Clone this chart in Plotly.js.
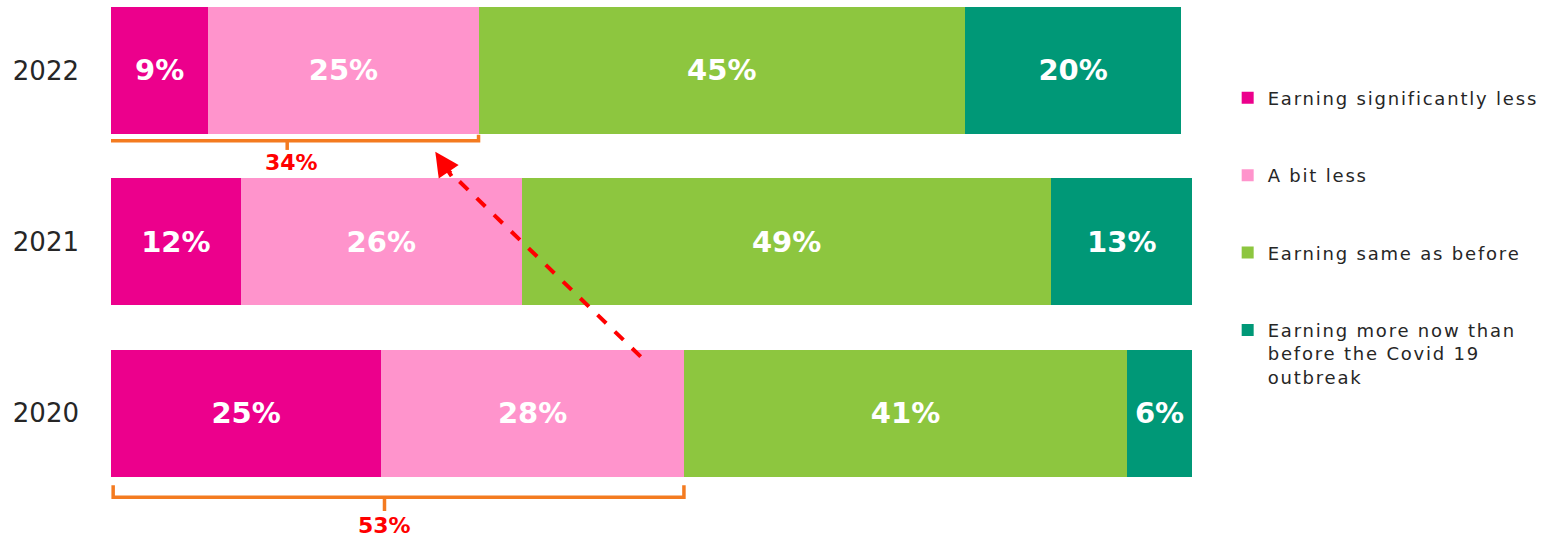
<!DOCTYPE html>
<html>
<head>
<meta charset="utf-8">
<script src="https://cdn.plot.ly/plotly-3.0.1.min.js"></script>
<style>html,body{margin:0;padding:0;background:#fff;}#chart{width:1548px;height:541px;}
.legendtext{letter-spacing:1.8px;}</style>
</head>
<body>
<div id="chart"></div>
<script>
// ---- data ----
const years = ['2020', '2021', '2022'];
const seriesNames = [
  'Earning significantly less',
  'A bit less',
  'Earning same as before',
  'Earning more now than<br>before the Covid 19<br>outbreak'
];
const sigLess = [25, 12, 9];
const bitLess = [28, 26, 25];
const same = [41, 49, 45];
const more = [6, 13, 20];
const colors = ['#EC008C', '#FF94CC', '#8DC63F', '#009877'];

const seriesValues = [sigLess, bitLess, same, more];

const traces = seriesValues.map((vals, i) => ({
  type: 'bar',
  orientation: 'h',
  y: years,
  x: vals,
  name: seriesNames[i],
  legendgroup: 'g' + i,
  marker: {color: colors[i], line: {width: 0}},
  text: vals.map(v => v + '%'),
  textposition: 'inside',
  insidetextanchor: 'middle',
  constraintext: 'none',
  textangle: 0,
  textfont: {family: 'DejaVu Sans', size: 29, color: '#ffffff', weight: 'bold'},
  hoverinfo: 'skip'
}));

// ---- brackets (derived from data) ----
const orange = '#F47B20';
const shapes = [];
const annotations = [];
function bracket(idx, topOff, lineOff, tickOff, labelOff, xPadL, centerX, labelX) {
  const total = sigLess[idx] + bitLess[idx];
  const yTop = idx + topOff, yLine = idx + lineOff, yTick = idx + tickOff;
  const xl = xPadL, xr = total;
  const xc = centerX !== undefined ? centerX : total / 2;
  const ln = {color: orange, width: 3.5};
  shapes.push({type: 'path', xref: 'x', yref: 'y',
    path: `M ${xl},${yTop} L ${xl},${yLine} L ${xr},${yLine} L ${xr},${yTop}`, line: ln});
  shapes.push({type: 'line', xref: 'x', yref: 'y', x0: xc, x1: xc, y0: yLine, y1: yTick, line: ln});
  annotations.push({xref: 'x', yref: 'y', x: labelX !== undefined ? labelX : xc, y: idx + labelOff,
    text: '<b>' + total + '%</b>',
    showarrow: false, font: {family: 'DejaVu Sans', size: 22, color: '#FF0000'}});
}
bracket(2, -0.376, -0.411, -0.464, -0.539, -0.2, 16.3, 16.7);
bracket(0, -0.42, -0.49, -0.571, -0.653, 0.2, 25.3, 25.3);

// dashed arrow from the 2020 bar to the 2022 bracket
const arrowTail = {x: 49.0, y: 0.33};
const arrowHead = {x: 30.0, y: 1.525};
shapes.push({type: 'line', xref: 'x', yref: 'y', x0: arrowTail.x, y0: arrowTail.y,
  x1: arrowHead.x + 1.2, y1: arrowHead.y - 0.11, line: {color: '#FF0000', width: 4, dash: 'dash'}});
annotations.push({xref: 'x', yref: 'y', axref: 'x', ayref: 'y', x: arrowHead.x, y: arrowHead.y,
  ax: arrowHead.x + 1.6, ay: arrowHead.y - 0.15, showarrow: true, arrowhead: 2, arrowsize: 1.2,
  arrowwidth: 4, arrowcolor: '#FF0000', text: ''});

const layout = {
  width: 1548, height: 541,
  margin: {l: 111, r: 356, t: 0, b: 0},
  barmode: 'stack',
  bargap: 0.26,
  paper_bgcolor: '#ffffff', plot_bgcolor: '#ffffff',
  xaxis: {range: [0, 100], visible: false, fixedrange: true},
  yaxis: {type: 'category', categoryorder: 'array', categoryarray: years,
    range: [-0.746, 2.411], showgrid: false, zeroline: false, showline: false, ticks: '',
    ticklabelstandoff: 31,
    tickfont: {family: 'DejaVu Sans', size: 26, color: '#262626'}},
  showlegend: true,
  legend: {x: 1.033, xanchor: 'left', y: 0.853, yanchor: 'top', traceorder: 'grouped',
    tracegroupgap: 51, valign: 'top',
    font: {family: 'DejaVu Sans', size: 18, color: '#262626'}, itemclick: false},
  shapes: shapes,
  annotations: annotations
};

Plotly.newPlot('chart', traces, layout, {displayModeBar: false, staticPlot: true});
</script>
</body>
</html>
